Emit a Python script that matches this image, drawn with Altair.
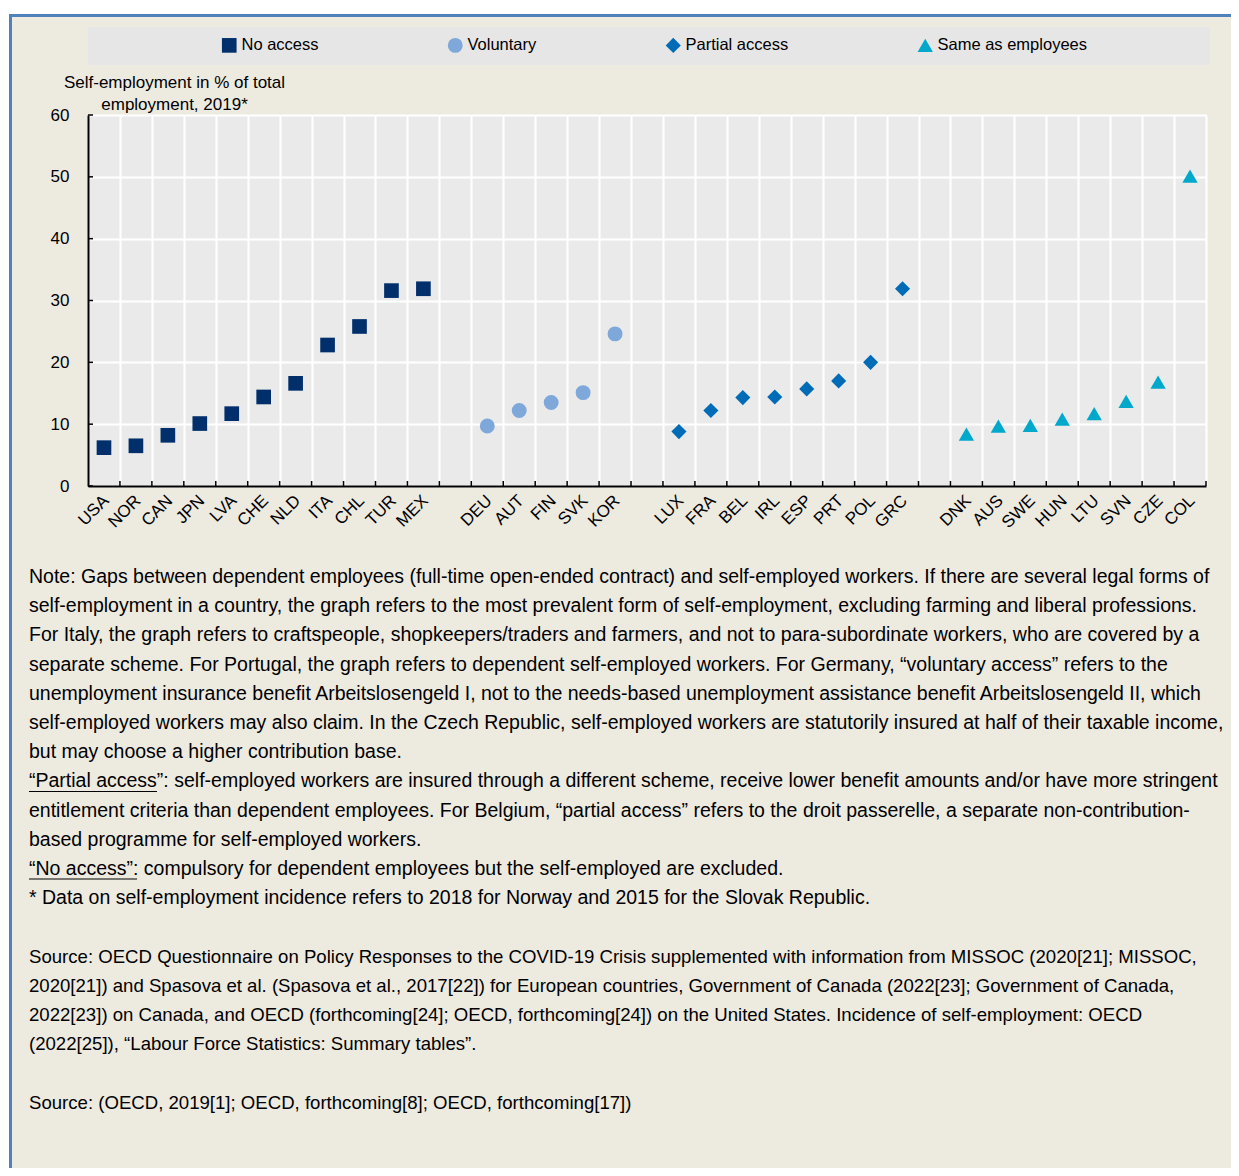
import altair as alt
import pandas as pd

# ---------------- data ----------------
categories = ["No access", "Voluntary", "Partial access", "Same as employees"]

no_access_countries = ["USA", "NOR", "CAN", "JPN", "LVA", "CHE", "NLD", "ITA", "CHL", "TUR", "MEX"]
no_access_values = [6.2, 6.5, 8.2, 10.1, 11.7, 14.4, 16.6, 22.8, 25.8, 31.6, 31.9]

voluntary_countries = ["DEU", "AUT", "FIN", "SVK", "KOR"]
voluntary_values = [9.7, 12.2, 13.5, 15.1, 24.6]

partial_countries = ["LUX", "FRA", "BEL", "IRL", "ESP", "PRT", "POL", "GRC"]
partial_values = [8.8, 12.2, 14.3, 14.4, 15.7, 17.0, 20.0, 31.9]

same_countries = ["DNK", "AUS", "SWE", "HUN", "LTU", "SVN", "CZE", "COL"]
same_values = [8.4, 9.7, 9.8, 10.8, 11.7, 13.7, 16.8, 50.1]

y_tick_values = [0, 10, 20, 30, 40, 50, 60]

note_lines = [
    "Note: Gaps between dependent employees (full-time open-ended contract) and self-employed workers. If there are several legal forms of",
    "self-employment in a country, the graph refers to the most prevalent form of self-employment, excluding farming and liberal professions.",
    "For Italy, the graph refers to craftspeople, shopkeepers/traders and farmers, and not to para-subordinate workers, who are covered by a",
    "separate scheme. For Portugal, the graph refers to dependent self-employed workers. For Germany, \u201cvoluntary access\u201d refers to the",
    "unemployment insurance benefit Arbeitslosengeld I, not to the needs-based unemployment assistance benefit Arbeitslosengeld II, which",
    "self-employed workers may also claim. In the Czech Republic, self-employed workers are statutorily insured at half of their taxable income,",
    "but may choose a higher contribution base.",
    "\u201cPartial access\u201d: self-employed workers are insured through a different scheme, receive lower benefit amounts and/or have more stringent",
    "entitlement criteria than dependent employees. For Belgium, \u201cpartial access\u201d refers to the droit passerelle, a separate non-contribution-",
    "based programme for self-employed workers.",
    "\u201cNo access\u201d: compulsory for dependent employees but the self-employed are excluded.",
    "* Data on self-employment incidence refers to 2018 for Norway and 2015 for the Slovak Republic.",
]

source_lines = [
    "Source: OECD Questionnaire on Policy Responses to the COVID-19 Crisis supplemented with information from MISSOC (2020[21]; MISSOC,",
    "2020[21]) and Spasova et al. (Spasova et al., 2017[22]) for European countries, Government of Canada (2022[23]; Government of Canada,",
    "2022[23]) on Canada, and OECD (forthcoming[24]; OECD, forthcoming[24]) on the United States. Incidence of self-employment: OECD",
    "(2022[25]), \u201cLabour Force Statistics: Summary tables\u201d.",
]

source2_line = "Source: (OECD, 2019[1]; OECD, forthcoming[8]; OECD, forthcoming[17])"

# ---------------- build table ----------------
groups = [
    ("No access", no_access_countries, no_access_values),
    ("Voluntary", voluntary_countries, voluntary_values),
    ("Partial access", partial_countries, partial_values),
    ("Same as employees", same_countries, same_values),
]
rows = []
for cat, cs, vs in groups:
    for c, v in zip(cs, vs):
        rows.append({"country": c, "value": v, "category": cat})
df = pd.DataFrame(rows)

slots = (no_access_countries + ["gap1"] + voluntary_countries + ["gap2"]
         + partial_countries + ["gap3"] + same_countries)

W, H = 1118, 371
FONT = "Liberation Sans Narrow, Arial Narrow, Liberation Sans, Arial, sans-serif"
BEIGE = "#EDEAE0"
LH = 29.2

xscale = alt.Scale(domain=slots, paddingInner=0, paddingOuter=0)
yscale = alt.Scale(domain=[0, 60], nice=False)

colors = ["#002F6C", "#7FA8DA", "#006BB6", "#00A9CC"]
shapes = ["square", "circle", "diamond", "triangle-up"]
sizes = [215, 235, 215, 225]

points = alt.Chart(df).mark_point(filled=True, opacity=1).encode(
    x=alt.X("country:N", scale=xscale, sort=slots,
            axis=alt.Axis(title=None, labelAngle=-45, labelAlign="right", labelBaseline="top",
                          labelExpr="indexof(datum.label, 'gap') == 0 ? '' : datum.label",
                          tickBand="extent", ticks=False, grid=True, gridColor="white", gridWidth=2,
                          domainColor="black", domainWidth=2, labelFont=FONT, labelFontSize=17,
                          labelColor="black", labelPadding=6, labelOffset=-4)),
    y=alt.Y("value:Q", scale=yscale,
            axis=alt.Axis(values=y_tick_values, title=["Self-employment in % of total", "employment, 2019*"],
                          titleAngle=0, titleX=86, titleY=-41, titleAlign="center", titleBaseline="top",
                          titleFont=FONT, titleFontSize=17, titleFontWeight="normal", titleColor="black",
                          titleLineHeight=22, grid=True, gridColor="white", gridWidth=2,
                          ticks=False, labelFont=FONT, labelFontSize=17, labelColor="black",
                          labelPadding=19, domainColor="black", domainWidth=2)),
    color=alt.Color("category:N", scale=alt.Scale(domain=categories, range=colors),
                    legend=alt.Legend(orient="none", legendX=133, legendY=-78, direction="horizontal",
                                      title=None, labelFont=FONT, labelFontSize=16.5, labelColor="black",
                                      symbolSize=140, columnPadding=128, padding=0, labelOffset=4,
                                      symbolStrokeWidth=0, zindex=1)),
    shape=alt.Shape("category:N", scale=alt.Scale(domain=categories, range=shapes)),
    size=alt.Size("category:N", scale=alt.Scale(domain=categories, range=sizes), legend=None),
)

ytick_df = pd.DataFrame({"value": y_tick_values})
yticks = alt.Chart(ytick_df).mark_rule(color="black", strokeWidth=1.5).encode(
    y=alt.Y("value:Q", scale=yscale), x=alt.value(0), x2=alt.value(5))

xtick_df = pd.DataFrame({"country": slots})
xticks = alt.Chart(xtick_df).mark_rule(color="black", strokeWidth=1.5).encode(
    x=alt.X("country:N", scale=xscale, sort=slots, bandPosition=1),
    y=alt.value(H - 5), y2=alt.value(H))

one = pd.DataFrame({"k": [0]})
legend_band = alt.Chart(one).mark_rect(color="#E6E6E6").encode(
    x=alt.value(0), x2=alt.value(1122), y=alt.value(-88), y2=alt.value(-50))

white_top = alt.Chart(one).mark_rect(color="white").encode(
    x=alt.value(-80), x2=alt.value(1150), y=alt.value(-107), y2=alt.value(-101))
blue_top = alt.Chart(one).mark_rect(color="#4F81BD").encode(
    x=alt.value(-79), x2=alt.value(1150), y=alt.value(-101), y2=alt.value(-98))
white_left = alt.Chart(one).mark_rect(color="white").encode(
    x=alt.value(-80), x2=alt.value(-79), y=alt.value(-107), y2=alt.value(1060))
blue_left = alt.Chart(one).mark_rect(color="#4F81BD").encode(
    x=alt.value(-79), x2=alt.value(-76), y=alt.value(-101), y2=alt.value(1060))

# multi-line text: first line is placed at y
notes = alt.Chart(one).mark_text(text=note_lines, align="left", baseline="middle", font=FONT,
                                 fontSize=19.5, lineHeight=LH, color="black").encode(
    x=alt.value(-59), y=alt.value(462))

sources = alt.Chart(one).mark_text(text=source_lines, align="left", baseline="middle", font=FONT,
                                   fontSize=18.6, lineHeight=LH, color="black").encode(
    x=alt.value(-59), y=alt.value(462 + LH * 13))

source2 = alt.Chart(one).mark_text(text=source2_line, align="left", baseline="middle", font=FONT,
                                   fontSize=18.6, color="black").encode(
    x=alt.value(-59), y=alt.value(462 + LH * 18))

underline1 = alt.Chart(one).mark_rule(color="black", strokeWidth=1.2).encode(
    x=alt.value(-59), x2=alt.value(69), y=alt.value(676.5))
underline2 = alt.Chart(one).mark_rule(color="black", strokeWidth=1.2).encode(
    x=alt.value(-59), x2=alt.value(49), y=alt.value(764))

chart = alt.layer(
    legend_band, points, yticks, xticks, white_top, blue_top, white_left, blue_left,
    notes, sources, source2, underline1, underline2
).properties(
    width=W, height=H,
    autosize=alt.AutoSizeParams(type="none"),
    padding={"left": 80, "top": 107, "right": 25, "bottom": 682},
    background=BEIGE,
).configure_view(fill="#EAEAEA", stroke="transparent")

chart.save("out.html", embed_options={"renderer": "svg", "actions": False})
